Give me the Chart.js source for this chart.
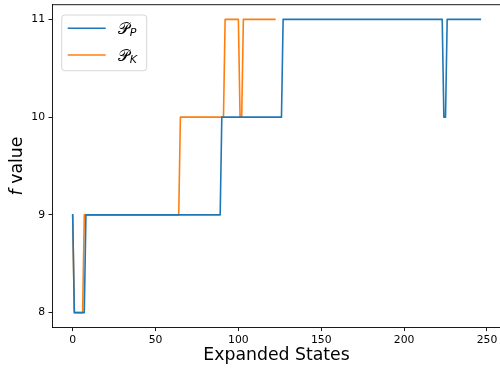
<!DOCTYPE html>
<html>
<head>
<meta charset="utf-8">
<script src="https://cdn.jsdelivr.net/npm/chart.js@4/dist/chart.umd.min.js"></script>
<style>
html,body{margin:0;padding:0;background:#fff;overflow:hidden;width:500px;height:370px;}
#wrap{width:504px;height:370px;}
</style>
</head>
<body>
<div id="wrap"><canvas id="c" width="504" height="370"></canvas></div>
<script>
// Series data (vertices of the step-like traces)
const seriesNames = ['P', 'K'];
const blueX = [0, 1, 7, 8, 89, 90, 126, 127, 223, 224, 225, 226, 246];
const blueY = [9, 8, 8, 9, 9, 10, 10, 11, 11, 10, 10, 11, 11];
const orangeX = [0, 1, 6, 7, 64, 65, 91, 92, 100, 101, 102, 103, 122];
const orangeY = [9, 8, 8, 9, 9, 10, 10, 11, 11, 10, 10, 11, 11];
const xTicks = [0, 50, 100, 150, 200, 250];
const yTicks = [8, 9, 10, 11];
const xTitle = 'Expanded States';
const yTitleItalic = 'f';
const yTitleRest = ' value';

const BLUE = '#1f77b4', ORANGE = '#ff7f0e';
const FONT = "'DejaVu Sans', sans-serif";
const TITLE_SIZE = 17.3;

const toPts = (xs, ys) => xs.map((x, i) => ({x: x, y: ys[i]}));

const extras = {
  id: 'extras',
  afterDraw(chart) {
    const ctx = chart.ctx, a = chart.chartArea;
    ctx.save();
    // top & right spines
    ctx.strokeStyle = '#000';
    ctx.lineWidth = 0.9;
    ctx.beginPath();
    ctx.moveTo(a.left, a.top);
    ctx.lineTo(a.right, a.top);
    ctx.lineTo(a.right, a.bottom);
    ctx.stroke();

    // y title with italic f
    ctx.save();
    ctx.translate(21.7, (a.top + a.bottom) / 2);
    ctx.rotate(-Math.PI / 2);
    ctx.fillStyle = '#000';
    ctx.textBaseline = 'alphabetic';
    ctx.textAlign = 'left';
    const fi = 'italic ' + TITLE_SIZE + 'px ' + FONT, fn = TITLE_SIZE + 'px ' + FONT;
    ctx.font = fi; const w1 = ctx.measureText(yTitleItalic).width;
    ctx.font = fn; const w2 = ctx.measureText(yTitleRest).width;
    let sx = -(w1 + w2) / 2;
    ctx.font = fi; ctx.fillText(yTitleItalic, sx, 0);
    ctx.font = fn; ctx.fillText(yTitleRest, sx + w1, 0);
    ctx.restore();

    // legend
    const bx = 61.7, by = 15, bw = 85, bh = 55.7, r = 3;
    ctx.beginPath();
    ctx.moveTo(bx + r, by);
    ctx.arcTo(bx + bw, by, bx + bw, by + bh, r);
    ctx.arcTo(bx + bw, by + bh, bx, by + bh, r);
    ctx.arcTo(bx, by + bh, bx, by, r);
    ctx.arcTo(bx, by, bx + bw, by, r);
    ctx.closePath();
    ctx.fillStyle = 'rgba(255,255,255,0.8)';
    ctx.fill();
    ctx.strokeStyle = 'rgba(204,204,204,0.8)';
    ctx.lineWidth = 1;
    ctx.stroke();

    const rows = [{c: BLUE, y: 28.3, sub: seriesNames[0]}, {c: ORANGE, y: 55, sub: seriesNames[1]}];
    rows.forEach(row => {
      ctx.strokeStyle = row.c;
      ctx.lineWidth = 1.6;
      ctx.beginPath();
      ctx.moveTo(67.7, row.y);
      ctx.lineTo(105.7, row.y);
      ctx.stroke();
      ctx.fillStyle = '#000';
      ctx.textAlign = 'left';
      ctx.textBaseline = 'alphabetic';
      ctx.font = '16px ' + FONT;
      const main = '\u{1D4AB}';
      ctx.fillText(main, 117.5, row.y + 5.8);
      const mw = ctx.measureText(main).width;
      ctx.font = 'italic 11px ' + FONT;
      ctx.fillText(row.sub, 117.5 + mw + 0.3, row.y + 7.8);
    });
    ctx.restore();
  }
};

new Chart(document.getElementById('c'), {
  type: 'line',
  data: {
    datasets: [
      {label: 'P_P', data: toPts(blueX, blueY), borderColor: BLUE, backgroundColor: BLUE,
       borderWidth: 1.6, pointRadius: 0, tension: 0, borderJoinStyle: 'round', borderCapStyle: 'square'},
      {label: 'P_K', data: toPts(orangeX, orangeY), borderColor: ORANGE, backgroundColor: ORANGE,
       borderWidth: 1.6, pointRadius: 0, tension: 0, borderJoinStyle: 'round', borderCapStyle: 'square'}
    ]
  },
  options: {
    responsive: false,
    animation: false,
    devicePixelRatio: 1,
    layout: {padding: {left: 0, right: 3.3, top: 4.7, bottom: 0}},
    plugins: {legend: {display: false}, tooltip: {enabled: false}},
    scales: {
      x: {
        type: 'linear', min: -12.3, max: 258.3,
        afterBuildTicks: s => { s.ticks = xTicks.map(v => ({value: v})); },
        afterFit: s => { s.height = 42.7; s.paddingLeft = 0; s.paddingRight = 0; s.paddingTop = 0; s.paddingBottom = 0; },
        grid: {drawOnChartArea: false, drawTicks: true, tickLength: 3.8, tickColor: '#000', tickWidth: 0.9},
        border: {display: true, color: '#000', width: 0.9},
        ticks: {color: '#000', font: {family: FONT, size: 10.8}, padding: 3, maxRotation: 0, autoSkip: false},
        title: {display: true, text: xTitle, color: '#000', font: {family: FONT, size: TITLE_SIZE, lineHeight: 1.2}, padding: {top: 0, bottom: 4.4}}
      },
      y: {
        type: 'linear', min: 7.85, max: 11.15,
        afterBuildTicks: s => { s.ticks = yTicks.map(v => ({value: v})); },
        afterFit: s => { s.width = 52.3; s.paddingTop = 0; s.paddingBottom = 0; s.paddingLeft = 0; s.paddingRight = 0; },
        grid: {drawOnChartArea: false, drawTicks: true, tickLength: 3.8, tickColor: '#000', tickWidth: 0.9},
        border: {display: true, color: '#000', width: 0.9},
        ticks: {color: '#000', font: {family: FONT, size: 10.8}, padding: 3.5}
      }
    }
  },
  plugins: [extras]
});
</script>
</body>
</html>
